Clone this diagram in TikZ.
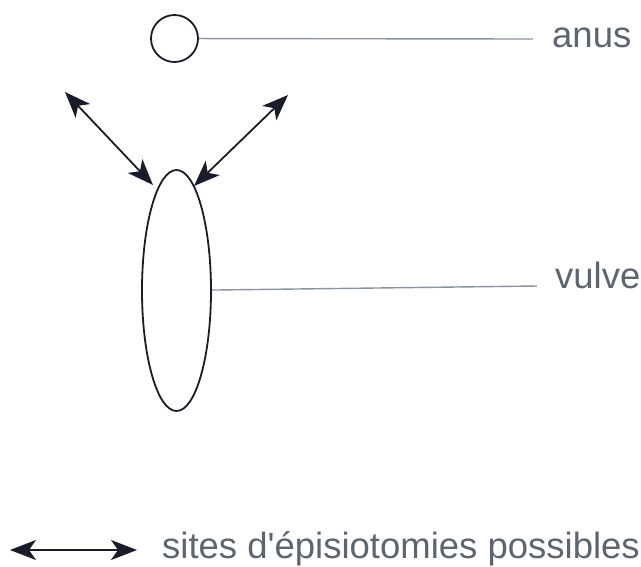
\documentclass[tikz,border=0pt]{standalone}
\usepackage{fontspec}
\usepackage{tikz}
\usetikzlibrary{positioning,arrows.meta,shapes.geometric}
\newfontfamily\lblfont{Liberation Sans}
\definecolor{scanblack}{HTML}{1A1C2A}
\definecolor{leadgray}{HTML}{8A939E}
\definecolor{textgray}{HTML}{5F656E}

\begin{document}
\begin{tikzpicture}[x=1pt,y=-1pt,
    organ/.style={draw=scanblack, line width=1.8pt, inner sep=0pt},
    leader/.style={leadgray, line width=1.4pt},
    lbl/.style={textgray, font=\lblfont\fontsize{36.5}{40}\selectfont, inner sep=0pt},
    site/.style={scanblack, line width=1.8pt, {Stealth[length=26pt,width=20pt,inset=7pt]}-{Stealth[length=26pt,width=20pt,inset=7pt]}}]
    \useasboundingbox (0,0) rectangle (641,566);
    % anus and its label
    \node[organ, circle, minimum size=47pt] (anus) at (174.5,38.5) {};
    \node[lbl, anchor=base west] (anuslbl) at (552,47) {anus};
    \coordinate (anusend) at (533,39);
    \draw[leader] (anus) -- (anusend);
    % vulve and its label
    \node[organ, ellipse, minimum width=69pt, minimum height=241pt] (vulve) at (176.5,290.5) {};
    \node[lbl, anchor=base west] (vulvelbl) at (555,288) {vulve};
    \coordinate (vulveend) at (537,286);
    \draw[leader] (vulve) -- (vulveend);
    % episiotomy sites
    \coordinate (leftout) at (65,92);
    \coordinate (leftin) at (153,185);
    \coordinate (rightout) at (288,95);
    \coordinate (rightin) at (194,186);
    \draw[site] (leftout) -- (leftin);
    \draw[site] (rightout) -- (rightin);
    % legend
    \coordinate (keyleft) at (10,550);
    \coordinate (keyright) at (137,550);
    \draw[site] (keyleft) -- (keyright);
    \node[lbl, anchor=base west] (keylbl) at (162,558) {sites d'épisiotomies possibles};
\end{tikzpicture}
\end{document}
